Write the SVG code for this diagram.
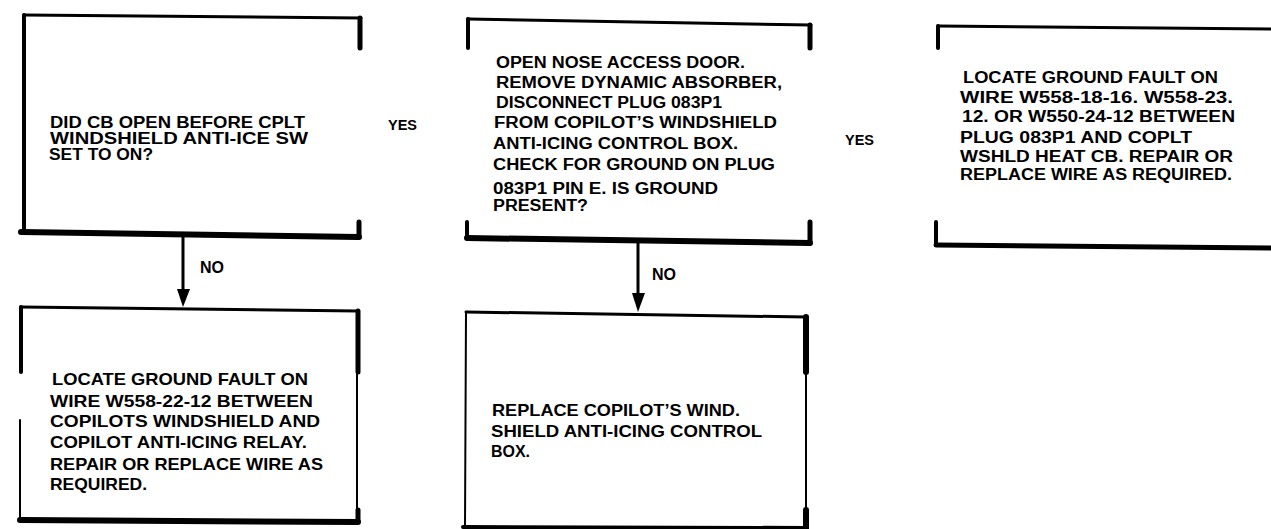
<svg xmlns="http://www.w3.org/2000/svg" width="1271" height="529" viewBox="0 0 1271 529">
<style>
.t{font-family:"Liberation Sans",Arial,sans-serif;font-weight:bold;fill:#000}
.b1{font-size:16.5px}
.b2{font-size:16px}
.b4{font-size:16.5px}
.lbl{font-family:"Liberation Sans",Arial,sans-serif;font-weight:bold;fill:#000}
.edge{fill:none;stroke:#000;stroke-linecap:round;stroke-linejoin:round}
.thin{stroke-width:2}
.med{stroke-width:3}
.thick{stroke-width:5}
.conn{stroke:#000;stroke-width:3;fill:none}
</style>
<rect width="1271" height="529" fill="#fff"/>

<g id="node-cb-open">
<path class="edge med" d="M24 15 L361 18"/>
<path class="edge" stroke-width="4" d="M24 15 L24 233"/>
<path class="edge thick" d="M360 18 L360 48"/>
<path class="edge thick" d="M359 222 L359 237"/>
<path class="edge" stroke-width="6" d="M21 232 L359 237"/>
<text class="t b1" x="50" y="128" textLength="255" lengthAdjust="spacingAndGlyphs">DID CB OPEN BEFORE CPLT</text>
<text class="t b1" x="50" y="144" textLength="258" lengthAdjust="spacingAndGlyphs">WINDSHIELD  ANTI-ICE  SW</text>
<text class="t b1" x="49" y="160" textLength="104" lengthAdjust="spacingAndGlyphs">SET TO ON?</text>
</g>

<g id="node-open-nose">
<path class="edge med" d="M468 19 L811 25"/>
<path class="edge" stroke-width="4" d="M468 19 L468 48"/>
<path class="edge thick" d="M810 25 L810 48"/>
<path class="edge" stroke-width="4" d="M467 222 L467 238"/>
<path class="edge thick" d="M810 222 L810 243"/>
<path class="edge" stroke-width="6" d="M467 238 L810 243"/>
<text class="t b2" x="496" y="68" textLength="249" lengthAdjust="spacingAndGlyphs">OPEN NOSE ACCESS DOOR.</text>
<text class="t b2" x="496" y="88" textLength="286" lengthAdjust="spacingAndGlyphs">REMOVE DYNAMIC ABSORBER,</text>
<text class="t b2" x="496" y="108" textLength="226" lengthAdjust="spacingAndGlyphs">DISCONNECT PLUG 083P1</text>
<text class="t b2" x="494" y="128" textLength="283" lengthAdjust="spacingAndGlyphs">FROM COPILOT’S WINDSHIELD</text>
<text class="t b2" x="493" y="149" textLength="245" lengthAdjust="spacingAndGlyphs">ANTI-ICING CONTROL BOX.</text>
<text class="t b2" x="493" y="170" textLength="282" lengthAdjust="spacingAndGlyphs">CHECK FOR GROUND ON PLUG</text>
<text class="t b2" x="493" y="194" textLength="225" lengthAdjust="spacingAndGlyphs">083P1 PIN E. IS GROUND</text>
<text class="t b2" x="493" y="211" textLength="95" lengthAdjust="spacingAndGlyphs">PRESENT?</text>
</g>

<g id="node-locate-w558-18">
<path class="edge med" d="M938 26 L1271 29"/>
<path class="edge" stroke-width="4" d="M938 26 L938 48"/>
<path class="edge" stroke-width="4" d="M936 222 L936 245"/>
<path class="edge" stroke-width="5" d="M936 245 L1271 248"/>
<text class="t b2" x="963" y="83" textLength="255" lengthAdjust="spacingAndGlyphs">LOCATE GROUND FAULT ON</text>
<text class="t b2" x="960" y="103" textLength="273" lengthAdjust="spacingAndGlyphs">WIRE  W558-18-16.  W558-23.</text>
<text class="t b2" x="962" y="122" textLength="273" lengthAdjust="spacingAndGlyphs">12. OR W550-24-12 BETWEEN</text>
<text class="t b2" x="960" y="143" textLength="232" lengthAdjust="spacingAndGlyphs">PLUG 083P1 AND COPLT</text>
<text class="t b2" x="960" y="162" textLength="273" lengthAdjust="spacingAndGlyphs">WSHLD HEAT CB. REPAIR OR</text>
<text class="t b2" x="960" y="180" textLength="272" lengthAdjust="spacingAndGlyphs">REPLACE WIRE AS REQUIRED.</text>
</g>

<g id="node-locate-w558-22">
<path class="edge med" d="M21 307 L358 311"/>
<path class="edge" stroke-width="4" d="M21 307 L21 372"/>
<path class="edge thin" d="M20 420 L20 520"/>
<path class="edge thick" d="M358 311 L358 372"/>
<path class="edge thin" d="M357 372 L357 510"/>
<path class="edge thick" d="M358 510 L358 521"/>
<path class="edge" stroke-width="6" d="M20 520 L358 522"/>
<text class="t b4" x="52" y="385" textLength="256" lengthAdjust="spacingAndGlyphs">LOCATE GROUND FAULT ON</text>
<text class="t b4" x="50" y="407" textLength="263" lengthAdjust="spacingAndGlyphs">WIRE  W558-22-12  BETWEEN</text>
<text class="t b4" x="50" y="427" textLength="270" lengthAdjust="spacingAndGlyphs">COPILOTS WINDSHIELD AND</text>
<text class="t b4" x="50" y="448" textLength="257" lengthAdjust="spacingAndGlyphs">COPILOT  ANTI-ICING  RELAY.</text>
<text class="t b4" x="50" y="470" textLength="273" lengthAdjust="spacingAndGlyphs">REPAIR OR REPLACE WIRE AS</text>
<text class="t b4" x="50" y="490" textLength="97" lengthAdjust="spacingAndGlyphs">REQUIRED.</text>
</g>

<g id="node-replace-box">
<path class="edge med" d="M466 312 L806 317"/>
<path class="edge thin" d="M466 312 L465 527"/>
<path class="edge" stroke-width="6" d="M806 317 L806 372"/>
<path class="edge thin" d="M806 372 L806 510"/>
<path class="edge" stroke-width="6" d="M806 510 L806 529"/>
<path class="edge" stroke-width="4" d="M463 527 L806 528"/>
<text class="t b4" x="492" y="416" textLength="248" lengthAdjust="spacingAndGlyphs">REPLACE  COPILOT’S  WIND.</text>
<text class="t b4" x="491" y="437" textLength="271" lengthAdjust="spacingAndGlyphs">SHIELD ANTI-ICING CONTROL</text>
<text class="t b4" x="491" y="457" textLength="39" lengthAdjust="spacingAndGlyphs">BOX.</text>
</g>

<g id="connectors">
<line class="conn" x1="183" y1="236" x2="183" y2="292"/>
<polygon points="177,289 190,289 183,307" fill="#000"/>
<line class="conn" x1="638" y1="242" x2="638" y2="296"/>
<polygon points="632,293 645,293 638,312" fill="#000"/>
<text class="lbl" font-size="14.5" x="388" y="130">YES</text>
<text class="lbl" font-size="14.5" x="845" y="145">YES</text>
<text class="lbl" font-size="16" x="200" y="273">NO</text>
<text class="lbl" font-size="16" x="652" y="280">NO</text>
</g>
</svg>
